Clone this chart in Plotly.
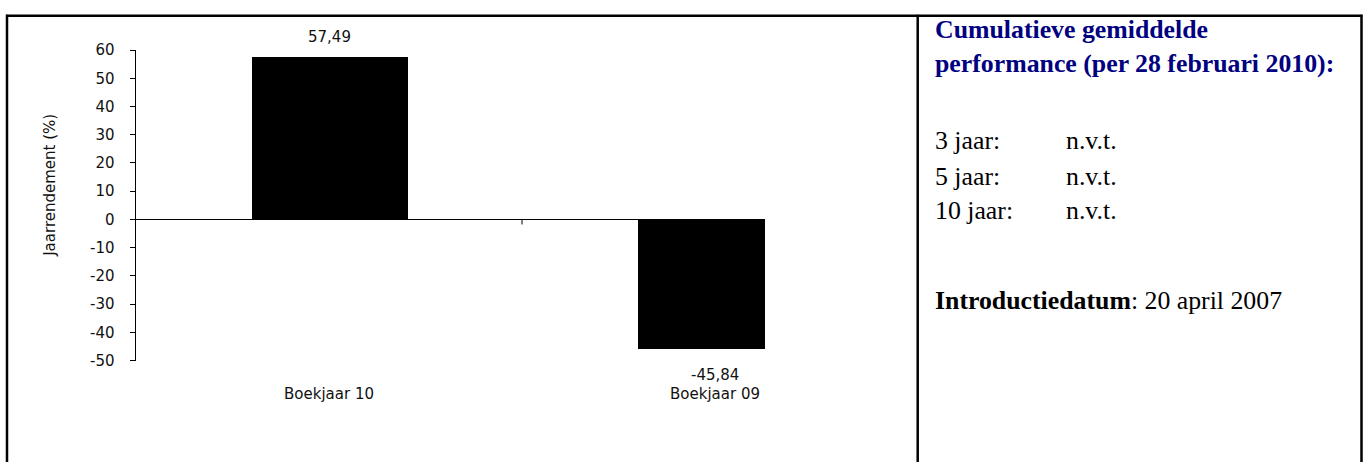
import plotly.graph_objects as go

# ---- data ----
categories = ["Boekjaar 10", "Boekjaar 09"]
values = [57.49, -45.84]
value_labels = ["57,49", "-45,84"]
y_ticks = [60, 50, 40, 30, 20, 10, 0, -10, -20, -30, -40, -50]
y_tick_text = ["60", "50", "40", "30", "20", "10", "0", "-10", "-20", "-30", "-40", "-50"]
y_title = "Jaarrendement (%)"

panel_title = ["Cumulatieve gemiddelde", "performance (per 28 februari 2010):"]
period_labels = ["3 jaar:", "5 jaar:", "10 jaar:"]
period_values = ["n.v.t.", "n.v.t.", "n.v.t."]
intro_label = "Introductiedatum"
intro_value = ": 20 april 2007"

W, H = 1365, 462
def px(x):
    return x / W
def py(y):
    return 1 - y / H

y_min, y_max = -50, 60
ydom = [py(365.9), py(42.7)]
unit = 386.0
x_left_px, x_right_px, c0 = 135.5, 765.0, 329.0
x_range = [(x_left_px - c0) / unit, (x_right_px - c0) / unit]
xdom = [px(x_left_px), px(x_right_px)]

chart_font = "DejaVu Sans"
xs = list(range(len(categories)))

fig = go.Figure()
fig.add_trace(go.Bar(
    x=xs, y=values, width=156 / unit,
    marker=dict(color="black", line=dict(width=0)),
    showlegend=False, hoverinfo="skip",
))

annotations = []
for xi, v, lab in zip(xs, values, value_labels):
    annotations.append(dict(
        x=xi, y=v, xref="x", yref="y", text=lab, showarrow=False,
        yanchor="middle", xanchor="center",
        yshift=20 if v >= 0 else -26,
        font=dict(family=chart_font, size=15, color="#111"),
    ))
annotations.append(dict(
    x=px(50), y=py(184), xref="paper", yref="paper", text=y_title,
    textangle=-90, showarrow=False, xanchor="center", yanchor="middle",
    font=dict(family=chart_font, size=15, color="#111"),
))

serif = "Liberation Serif, Times New Roman, serif"
fs = 25.8
tx = px(933)
annotations.append(dict(
    x=tx, y=py(39), xref="paper", yref="paper",
    text="<br>".join("<b>" + t + "</b>" for t in panel_title),
    showarrow=False, xanchor="left", yanchor="middle", align="left",
    font=dict(family=serif, size=fs, color="#000080"),
))
row_y = [137, 174, 210]
for lab, val, yy in zip(period_labels, period_values, row_y):
    annotations.append(dict(
        x=tx, y=py(yy), xref="paper", yref="paper", text=lab,
        showarrow=False, xanchor="left", yanchor="middle",
        font=dict(family=serif, size=fs, color="black"),
    ))
    annotations.append(dict(
        x=px(1064), y=py(yy), xref="paper", yref="paper", text=val,
        showarrow=False, xanchor="left", yanchor="middle",
        font=dict(family=serif, size=fs, color="black"),
    ))
annotations.append(dict(
    x=tx, y=py(303), xref="paper", yref="paper",
    text="<b>" + intro_label + "</b>" + intro_value,
    showarrow=False, xanchor="left", yanchor="middle",
    font=dict(family=serif, size=fs, color="black"),
))

shapes = [
    dict(type="line", xref="paper", yref="paper", x0=px(7), x1=px(7), y0=py(6), y1=-0.1,
         line=dict(color="black", width=2.5)),
    dict(type="line", xref="paper", yref="paper", x0=px(1361.5), x1=px(1361.5), y0=py(6), y1=-0.1,
         line=dict(color="black", width=2.5)),
    dict(type="line", xref="paper", yref="paper", x0=px(6), x1=px(1362.5), y0=py(7), y1=py(7),
         line=dict(color="black", width=2.5)),
    dict(type="line", xref="paper", yref="paper", x0=px(917.7), x1=px(917.7), y0=py(6), y1=-0.1,
         line=dict(color="black", width=2.5)),
    # category boundary tick on the zero line
    dict(type="line", xref="x", yref="y", ysizemode="pixel", yanchor=0,
         x0=0.5, x1=0.5, y0=0, y1=-5, line=dict(color="black", width=1)),
]

fig.update_layout(
    width=W, height=H,
    margin=dict(l=0, r=0, t=0, b=0),
    paper_bgcolor="white", plot_bgcolor="white",
    bargap=0,
    xaxis=dict(
        domain=xdom, range=x_range, tickvals=xs, ticktext=categories,
        showline=False, ticks="", showgrid=False, zeroline=False,
        ticklabelstandoff=22, fixedrange=True,
        tickfont=dict(family=chart_font, size=15, color="#111"),
    ),
    yaxis=dict(
        domain=ydom, range=[y_min, y_max], tickvals=y_ticks, ticktext=y_tick_text,
        showline=True, linecolor="black", linewidth=1,
        ticks="outside", ticklen=5, tickcolor="black",
        showgrid=False, zeroline=True, zerolinecolor="black", zerolinewidth=1,
        ticklabelstandoff=12, fixedrange=True,
        tickfont=dict(family=chart_font, size=15, color="#111"),
    ),
    annotations=annotations,
    shapes=shapes,
)

fig.write_html("out.html", config={"displayModeBar": False},
               post_script="document.body.style.margin='0';")
